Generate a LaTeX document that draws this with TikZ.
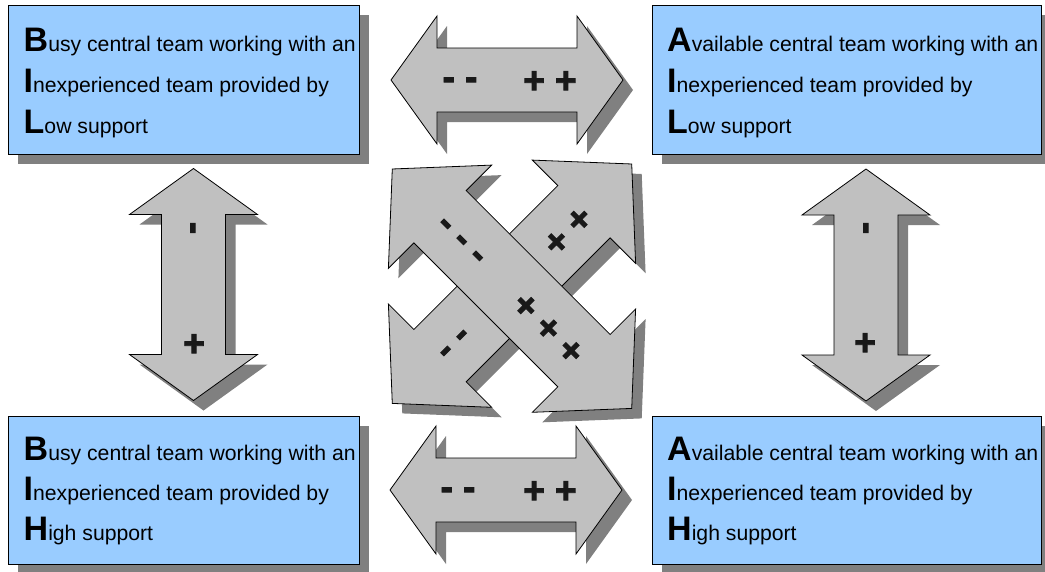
\documentclass[tikz,border=0pt]{standalone}
\usepackage{fontspec}
\setmainfont{Liberation Sans}
\newfontface\signface{Liberation Sans Bold}[FakeBold=2.5]
\usetikzlibrary{calc,shadows}

\definecolor{boxblue}{HTML}{99CCFF}
\definecolor{arrowgrey}{HTML}{C0C0C0}
\definecolor{shadowgrey}{HTML}{808080}

% outline of a double-headed block arrow lying along the local x axis:
% #1 half length, #2 head length, #3 head half width, #4 shaft half width
\newcommand{\dblarrowpath}[4]{({-#1},0) -- ({-#1+#2},{-#3}) -- ({-#1+#2},{-#4}) -- ({#1-#2},{-#4}) -- ({#1-#2},{-#3}) -- ({#1},0) -- ({#1-#2},{#3}) -- ({#1-#2},{#4}) -- ({-#1+#2},{#4}) -- ({-#1+#2},{#3}) -- cycle}

% block arrow with its drop shadow: #1 centre, #2 angle, #3..#6 as above
\newcommand{\blockarrow}[6]{%
  \begin{scope}[shift={#1}]
    \fill[shadowgrey, shift={(10,10)}, rotate=#2] \dblarrowpath{#3}{#4}{#5}{#6};
    \filldraw[arrowbody, rotate=#2] \dblarrowpath{#3}{#4}{#5}{#6};
  \end{scope}}

\newcommand{\bigini}[1]{{\fontsize{34}{34}\selectfont\bfseries #1}}

\begin{document}
\begin{tikzpicture}[x=1pt, y=-1pt,
  arrowbody/.style={fill=arrowgrey, draw=black, line width=0.8pt, line join=miter},
  infobox/.style={rectangle, fill=boxblue, draw=black, line width=0.8pt, inner sep=0pt,
    anchor=north west,
    drop shadow={shadow xshift=10pt, shadow yshift=-10pt, fill=shadowgrey, opacity=1}},
  boxline/.style={anchor=base west, inner sep=0pt, font=\fontsize{21.2}{21.2}\selectfont},
  minus/.style={inner sep=0pt, font=\fontsize{37}{37}\signface, text=black!90, text height=19pt, text depth=0pt},
  plus/.style={inner sep=0pt, font=\fontsize{37}{37}\signface, text=black!90, text height=24pt, text depth=0pt}]

\useasboundingbox (0,0) rectangle (1045,571);
\clip (0,0) rectangle (1045,571);

% the four situation boxes
\node[infobox, minimum width=351pt, minimum height=149pt] (bil) at (8,5) {};
\node[infobox, minimum width=389pt, minimum height=149pt] (ail) at (652,5) {};
\node[infobox, minimum width=351pt, minimum height=148pt] (bih) at (8,416) {};
\node[infobox, minimum width=389pt, minimum height=148pt] (aih) at (652,416) {};

\node[boxline] (bil1) at (23.5,51.7) {\bigini{B}usy central team working with an};
\node[boxline] (bil2) at (23.5,92.7) {\bigini{I}nexperienced team provided by};
\node[boxline] (bil3) at (23.5,133.3) {\bigini{L}ow support};

\node[boxline] (ail1) at (667,51.7) {\bigini{A}vailable central team working with an};
\node[boxline] (ail2) at (667,92.7) {\bigini{I}nexperienced team provided by};
\node[boxline] (ail3) at (667,133.3) {\bigini{L}ow support};

\node[boxline] (bih1) at (23.5,460) {\bigini{B}usy central team working with an};
\node[boxline] (bih2) at (23.5,500) {\bigini{I}nexperienced team provided by};
\node[boxline] (bih3) at (23.5,540) {\bigini{H}igh support};

\node[boxline] (aih1) at (667,460) {\bigini{A}vailable central team working with an};
\node[boxline] (aih2) at (667,500) {\bigini{I}nexperienced team provided by};
\node[boxline] (aih3) at (667,540) {\bigini{H}igh support};

% horizontal arrows
\blockarrow{(507,80)}{0}{116}{46}{64}{32}
\node[minus] (top-m) at (460,80) {- -};
\node[plus]  (top-p) at (550,81) {+ +};

\blockarrow{(506,490)}{0}{116}{46}{64}{32}
\node[minus] (bot-m) at (458,490) {- -};
\node[plus]  (bot-p) at (550,491) {+ +};

% vertical arrows
\blockarrow{(193.5,284.5)}{90}{116}{46}{64}{32}
\node[minus, rotate=90] (left-m) at (193,228) {-};
\node[plus] (left-p) at (194,344) {+};

\blockarrow{(866,285)}{90}{116}{46}{64}{32}
\node[minus, rotate=90] (right-m) at (866,228) {-};
\node[plus] (right-p) at (865,343) {+};

% diagonal arrows
\blockarrow{(512,283.7)}{45}{169.3}{67.5}{73}{37}
\node[minus, rotate=45] (diag2-m) at (453.7,343) {- -};
\node[plus, rotate=45]  (diag2-p) at (568,230.8) {+ +};

\blockarrow{(512,288.7)}{-45}{169.3}{67.5}{73}{37}
\node[minus, rotate=-45] (diag1-m) at (461.7,240) {- - -};
\node[plus, rotate=-45]  (diag1-p) at (548.3,328.3) {+ + +};

\end{tikzpicture}
\end{document}
